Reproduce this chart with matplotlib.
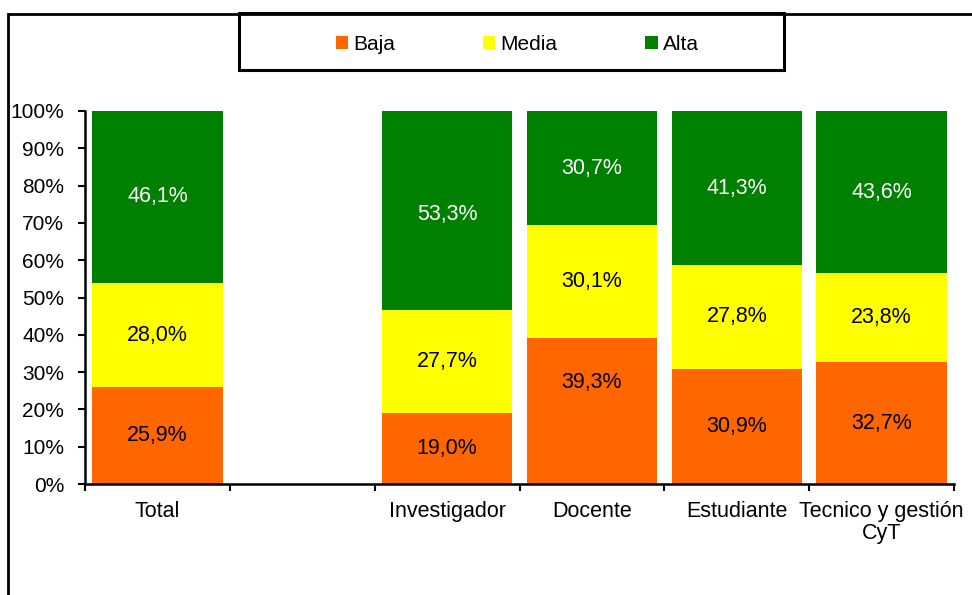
import matplotlib
matplotlib.use("Agg")
import matplotlib.pyplot as plt
from matplotlib.patches import Rectangle, Patch
import numpy as np

plt.rcParams['font.family'] = ['Liberation Sans', 'DejaVu Sans']

categories = ["Total", "", "Investigador", "Docente", "Estudiante", "Tecnico y gestión\nCyT"]
baja = [25.9, np.nan, 19.0, 39.3, 30.9, 32.7]
media = [28.0, np.nan, 27.7, 30.1, 27.8, 23.8]
alta = [46.1, np.nan, 53.3, 30.7, 41.3, 43.6]
series_names = ["Baja", "Media", "Alta"]
colors = ["#FF6600", "#FFFF00", "#008000"]
label_colors = ["black", "black", "white"]
yticks = [0, 10, 20, 30, 40, 50, 60, 70, 80, 90, 100]
# manual label nudges (series index, category index) -> offset in axis units
label_offsets = {(0, 3): 7.5, (2, 2): -1.0}

W, H = 972, 595
fig = plt.figure(figsize=(W / 100, H / 100), dpi=100)
ax = fig.add_axes([85 / W, 1 - 484 / H, (954 - 85) / W, (484 - 111) / H])

x = np.arange(len(categories))
data = np.array([baja, media, alta], dtype=float)
totals = np.nansum(data, axis=0)
totals[totals == 0] = 1
norm = data / totals * 100

bottom = np.zeros(len(categories))
for i, name in enumerate(series_names):
    vals = np.nan_to_num(norm[i])
    ax.bar(x, vals, width=0.9, bottom=bottom, color=colors[i], label=name,
           edgecolor='none', zorder=2)
    for j in range(len(categories)):
        if not np.isnan(data[i, j]):
            yy = bottom[j] + vals[j] / 2 + label_offsets.get((i, j), 0)
            ax.text(x[j], yy, f"{data[i, j]:.1f}%".replace('.', ','),
                    ha='center', va='center', fontsize=15.5, color=label_colors[i], zorder=3)
    bottom += vals

ax.set_xlim(-0.5, len(categories) - 0.5)
ax.set_ylim(0, 100)
ax.set_yticks(yticks)
ax.set_yticklabels([f"{t}%" for t in yticks], fontsize=15)
ax.set_xticks(x)
ax.set_xticklabels(categories, fontsize=15.5, linespacing=1.1)
ax.set_xticks(np.arange(-0.5, len(categories), 1.0), minor=True)
ax.tick_params(axis='x', which='major', length=0, pad=12)
ax.tick_params(axis='x', which='minor', length=5, width=1.5, direction='out')
ax.tick_params(axis='y', which='major', length=5, width=1.5, direction='out', pad=10)
for s in ['top', 'right']:
    ax.spines[s].set_visible(False)
for s in ['left', 'bottom']:
    ax.spines[s].set_linewidth(1.8)
    ax.spines[s].set_color('black')

# outer frame
fig.patches.append(Rectangle((8 / W, -0.1), 1.2, 1 - 14 / H + 0.1, transform=fig.transFigure,
                             fill=False, edgecolor='black', linewidth=2, zorder=0))
# legend box
fig.patches.append(Rectangle((239 / W, 1 - 70 / H), (784 - 239) / W, (70 - 13) / H,
                             transform=fig.transFigure, fill=False, edgecolor='black',
                             linewidth=2.2, zorder=5))
handles = [Patch(facecolor=c, edgecolor='none') for c in colors]
fig.legend(handles, series_names, loc='center', ncol=3,
           bbox_to_anchor=((239 + 784) / 2 / W + 0.006, 1 - 44 / H),
           frameon=False, fontsize=15, handlelength=0.6, handleheight=0.6,
           handletextpad=0.25, columnspacing=4.2)

fig.savefig("out.png", dpi=100)
